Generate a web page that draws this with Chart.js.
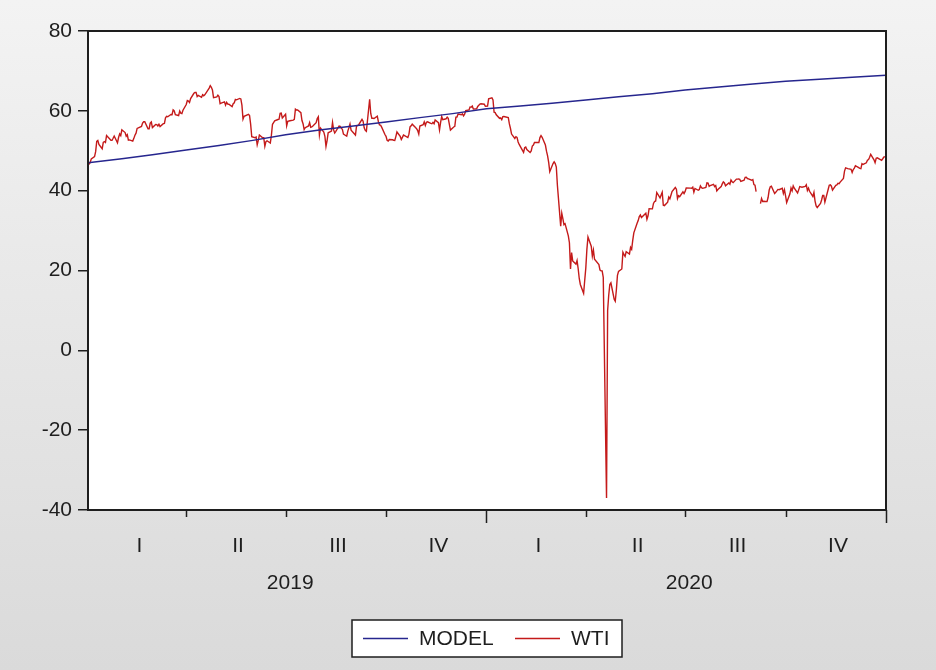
<!DOCTYPE html>
<html>
<head>
<meta charset="utf-8">
<script src="https://cdn.jsdelivr.net/npm/chart.js@4.4.1/dist/chart.umd.min.js"></script>
<style>
  html, body { margin: 0; padding: 0; }
  body { width: 936px; height: 670px; overflow: hidden; background: linear-gradient(#f3f3f3, #dadada); }
  canvas { display: block; }
</style>
</head>
<body>
<canvas id="grafico" width="936" height="670"></canvas>
<script>
const seriesNames = ['MODEL', 'WTI'];
const quarterLabels = ['I', 'II', 'III', 'IV'];
const yearLabels = ['2019', '2020'];
const yTicks = [-40, -20, 0, 20, 40, 60, 80];

// modelo: un valor al inicio de cada mes
const modelMonths = ['2019-01','2019-02','2019-03','2019-04','2019-05','2019-06','2019-07','2019-08','2019-09','2019-10','2019-11','2019-12',
  '2020-01','2020-02','2020-03','2020-04','2020-05','2020-06','2020-07','2020-08','2020-09','2020-10','2020-11','2020-12','2021-01'];
const modelValues = [47.0, 48.0, 49.0, 50.2, 51.3, 52.6, 54.0, 55.2, 56.2, 57.2, 58.3, 59.3,
  60.5, 61.2, 61.9, 62.7, 63.5, 64.3, 65.2, 66.0, 66.7, 67.4, 67.9, 68.4, 68.9];

// WTI diario (lunes a viernes), null = feriado sin dato
const wti2019 = [
  null, 46.54, 47.09, 47.96, 48.52, 49.78, 52.36, 52.59, 51.59, 50.51, 52.11, 52.31, 52.07, 53.80, null, 52.61, 52.62, 53.13, 53.69, 51.99, 53.31, 54.23, 53.79,
  55.26, 54.56, 53.66, 54.01, 52.64, 52.72, 52.41, 53.10, 53.90, 54.41, 55.59, null, 56.09, 56.92, 57.26, 57.26, 55.48, 55.50, 56.94, 57.22,
  55.80, 56.59, 56.56, 56.22, 56.66, 56.07, 56.79, 56.87, 58.26, 58.61, 58.52, 59.09, 59.03, 60.23, 59.98, 59.04, 58.82, 59.94, 59.41, 59.30, 60.14,
  61.59, 62.58, 62.46, 62.10, 63.08, 64.40, 64.61, 64.61, 63.58, 63.89, 63.40, 64.05, 63.76, 64.00, null, 65.70, 66.30, 65.89, 65.21, 63.30, 63.50, 63.91,
  63.60, 61.81, 61.94, 62.25, 61.40, 62.12, 61.70, 61.66, 61.04, 61.78, 62.02, 62.87, 62.76, 63.10, 62.99, 61.42, 57.91, 58.63, null, 59.14, 58.81, 56.59, 53.50,
  53.26, 53.46, 51.49, 52.58, 53.95, 53.27, 53.28, 51.13, 52.30, 52.50, 51.92, 53.91, 56.63, 57.07, 57.47, 57.83, 57.89, 59.39, 59.45, 58.20,
  59.14, 56.26, 57.36, null, 57.52, 57.67, 57.84, 60.42, 60.21, 60.20, 59.55, 57.58, 56.77, 55.29, 55.76, 56.22, 57.05, 55.88, 56.00, 56.18, 57.02, 58.09, 58.53,
  53.95, 55.66, 54.69, 53.63, 51.09, 52.54, 54.50, 54.93, 57.10, 55.23, 54.47, 54.87, 56.21, 56.13, 55.68, 55.35, 54.17, 53.64, 54.93, 55.78, 56.71, 55.16,
  null, 53.94, 56.26, 56.30, 56.52, 57.85, 57.40, 55.75, 55.09, 54.85, 62.90, 59.34, 58.11, 58.13, 58.09, 58.64, 57.29, 56.49, 56.41, 55.91, 54.07,
  53.62, 52.64, 52.45, 52.81, 52.75, 52.63, 52.59, 53.55, 54.70, 53.59, 52.81, 53.36, 53.93, 53.78, 53.31, 54.16, 55.97, 56.23, 56.66, 55.81, 55.54, 55.06, 54.18,
  56.20, 56.54, 57.23, 56.35, 57.15, 57.24, 56.86, 56.80, 57.12, 56.77, 57.72, 57.05, 55.21, 57.11, 58.58, 57.77, 58.01, 58.41, 58.11, null, 55.17,
  55.96, 56.10, 58.43, 58.43, 59.20, 59.02, 59.24, 58.76, 59.18, 60.07, 60.21, 60.94, 60.93, 61.22, 60.44, 60.52, 61.11, null, 61.68, 61.76, 61.66, 61.14
];
const wti2020 = [
  null, 61.17, 63.00, 63.27, 62.70, 59.65, 59.56, 59.02, 58.12, 58.23, 57.79, 58.54, 58.58, null, 58.30, 56.71, 55.57, 54.18, 53.08, 53.53, 53.35, 52.19, 51.58,
  50.11, 49.61, 50.75, 50.95, 50.32, 49.57, 49.94, 51.17, 51.42, 52.05, null, 52.05, 53.29, 53.78, 53.38, 51.43, 49.90, 48.73, 47.09, 44.76,
  46.78, 47.23, 46.78, 45.90, 41.28, 31.13, 34.36, 32.98, 31.50, 31.73, 28.70, 26.95, 20.37, 24.50, 22.40, 21.60, 22.50, 20.50, 18.00, 16.50, 14.30, 17.50,
  20.60, 25.30, 28.40, 26.10, 23.60, 25.10, 22.80, null, 21.50, 20.10, 19.90, 19.90, 18.30, -37.00, 10.00, 13.80, 16.50, 16.90, 12.80, 12.30, 15.10, 18.80,
  19.78, 20.39, 24.56, 23.99, 23.55, 24.74, 24.14, 25.78, 25.29, 27.56, 29.43, 31.82, 32.50, 33.49, 33.92, 33.25, null, 34.35, 32.81, 33.71, 35.49,
  35.44, 36.81, 37.29, 37.41, 39.55, 38.19, 38.94, 39.60, 36.34, 36.26, 37.12, 38.38, 37.96, 38.84, 39.75, 40.79, 40.37, 38.01, 38.72, 38.49, 39.70, 39.27,
  39.82, 40.65, null, 40.63, 40.62, 40.90, 39.62, 40.55, 40.10, 40.29, 41.20, 40.75, 40.59, 40.81, 41.96, 41.90, 41.07, 41.29, 41.60, 41.04, 41.27, 39.92, 40.27,
  41.01, 41.70, 42.19, 41.95, 41.22, 41.94, 41.61, 42.67, 42.24, 42.01, 42.89, 42.89, 42.93, 42.82, 42.34, 42.62, 43.35, 43.39, 43.04, 42.97, 42.61,
  42.76, 41.51, 41.37, 39.77, null, 36.76, 38.05, 37.30, 37.33, 37.26, 38.28, 40.16, 40.97, 41.11, 39.31, 39.60, 39.93, 40.31, 40.25, 40.60, 39.29, 40.22,
  38.72, 37.05, 39.22, 40.67, 39.95, 41.19, 40.60, 39.43, 40.20, 41.04, 40.96, 40.88, 41.06, 41.46, 40.03, 40.64, 39.85, 38.56, 39.57, 37.39, 36.17, 35.79,
  36.81, 37.66, 38.79, 38.79, 37.14, 40.29, 41.36, 41.45, 41.12, 40.13, 41.34, 41.43, 41.82, 41.74, 42.15, 43.06, 44.91, 45.71, null, 45.53, 45.34,
  44.55, 45.28, 45.64, 46.26, 45.76, 45.60, 45.52, 46.78, 46.57, 46.99, 47.62, 47.82, 48.36, 49.10, 47.74, 47.02, 48.12, 48.23, null, 47.62, 48.00, 48.40, 48.52
];
// feriados donde la linea se ve cortada en el original
const cortes = ['2020-09-07'];

const DAY = 86400000;
const ORIGEN = Date.UTC(2019, 0, 1);
const TOTAL_DIAS = (Date.UTC(2021, 0, 1) - ORIGEN) / DAY;

function diaDe(ms) { return Math.round((ms - ORIGEN) / DAY); }
function diaDeTexto(s) {
  const [a, m, d] = s.split('-').map(Number);
  return diaDe(Date.UTC(a, m - 1, d || 1));
}
const diasCorte = cortes.map(diaDeTexto);

function puntosHabiles(anio, valores) {
  const d = new Date(Date.UTC(anio, 0, 1));
  const out = [];
  let i = 0;
  while (i < valores.length) {
    const wd = d.getUTCDay();
    if (wd !== 0 && wd !== 6) {
      const x = diaDe(d.getTime());
      if (valores[i] !== null) out.push({ x, y: valores[i] });
      else if (diasCorte.includes(x)) out.push({ x, y: null });
      i++;
    }
    d.setUTCDate(d.getUTCDate() + 1);
  }
  return out;
}

const modelPoints = modelMonths.map((m, i) => ({ x: diaDeTexto(m), y: modelValues[i] }));
const wtiPoints = puntosHabiles(2019, wti2019).concat(puntosHabiles(2020, wti2020));

// limites y centros de trimestres (en dias desde 2019-01-01)
const limites = [];
const centros = [];
[2019, 2020].forEach(a => {
  for (let q = 0; q < 4; q++) {
    const ini = diaDe(Date.UTC(a, q * 3, 1));
    const fin = diaDe(Date.UTC(a, q * 3 + 3, 1));
    limites.push(fin);
    centros.push((ini + fin) / 2);
  }
});
const centrosAnio = [2019, 2020].map(a => (diaDe(Date.UTC(a, 0, 1)) + diaDe(Date.UTC(a + 1, 0, 1))) / 2);

const FUENTE = '"Liberation Sans", Arial, sans-serif';
const TINTA = '#1e1e1e';

const marco = {
  id: 'marco',
  beforeDraw(chart) {
    const { ctx, chartArea: a } = chart;
    ctx.save();
    ctx.fillStyle = '#ffffff';
    ctx.fillRect(a.left, a.top, a.right - a.left, a.bottom - a.top);
    ctx.restore();
  },
  afterDraw(chart) {
    const { ctx, chartArea: a } = chart;
    const x = chart.scales.x;
    ctx.save();
    ctx.strokeStyle = TINTA;
    ctx.lineWidth = 2;
    ctx.strokeRect(a.left, a.top, a.right - a.left, a.bottom - a.top);

    // marcas del eje x
    ctx.lineWidth = 1.5;
    limites.forEach((v, i) => {
      const px = Math.round(x.getPixelForValue(v)) + 0.5;
      const largo = (i % 4 === 3) ? 13 : 7;
      ctx.beginPath();
      ctx.moveTo(px, a.bottom);
      ctx.lineTo(px, a.bottom + largo);
      ctx.stroke();
    });

    // años
    ctx.fillStyle = TINTA;
    ctx.font = '21px ' + FUENTE;
    ctx.textAlign = 'center';
    ctx.textBaseline = 'middle';
    yearLabels.forEach((t, i) => {
      ctx.fillText(t, x.getPixelForValue(centrosAnio[i]) + 3, 583);
    });

    // leyenda
    const caja = { l: 352, t: 620, r: 622, b: 657 };
    ctx.fillStyle = '#ffffff';
    ctx.fillRect(caja.l, caja.t, caja.r - caja.l, caja.b - caja.t);
    ctx.strokeStyle = TINTA;
    ctx.lineWidth = 1.5;
    ctx.strokeRect(caja.l, caja.t, caja.r - caja.l, caja.b - caja.t);
    const yl = 638;
    const muestras = [363, 515];
    chart.data.datasets.forEach((ds, i) => {
      ctx.strokeStyle = ds.borderColor;
      ctx.lineWidth = 1.5;
      ctx.beginPath();
      ctx.moveTo(muestras[i], yl + 0.5);
      ctx.lineTo(muestras[i] + 45, yl + 0.5);
      ctx.stroke();
      ctx.fillStyle = TINTA;
      ctx.textAlign = 'left';
      ctx.fillText(ds.label, muestras[i] + 56, yl + 1);
    });
    ctx.restore();
  }
};

const ctx = document.getElementById('grafico').getContext('2d');
new Chart(ctx, {
  type: 'line',
  data: {
    datasets: [
      { label: seriesNames[0], data: modelPoints, borderColor: '#26268e', borderWidth: 1.5, pointRadius: 0, tension: 0 },
      { label: seriesNames[1], data: wtiPoints, borderColor: '#c41a1a', borderWidth: 1.4, pointRadius: 0, tension: 0, spanGaps: false }
    ]
  },
  options: {
    responsive: false,
    animation: false,
    layout: { padding: { top: 31, right: 50, left: 0, bottom: 0 } },
    plugins: { legend: { display: false }, tooltip: { enabled: false } },
    scales: {
      x: {
        type: 'linear',
        min: 0,
        max: TOTAL_DIAS,
        afterBuildTicks: s => { s.ticks = centros.map(v => ({ value: v + 2 })); },
        afterFit: s => { s.height = 160; },
        grid: { display: false },
        border: { display: false },
        ticks: {
          autoSkip: false,
          maxRotation: 0,
          padding: 16,
          color: TINTA,
          font: { family: FUENTE, size: 21 },
          callback: (v, i) => quarterLabels[i % 4]
        }
      },
      y: {
        min: -40,
        max: 80,
        afterBuildTicks: s => { s.ticks = yTicks.map(v => ({ value: v })); },
        afterFit: s => { s.width = 88; },
        grid: { drawOnChartArea: false, drawTicks: true, tickLength: 10, color: TINTA, lineWidth: 1.5 },
        border: { display: false },
        ticks: { padding: 6, color: TINTA, font: { family: FUENTE, size: 21 } }
      }
    }
  },
  plugins: [marco]
});
</script>
</body>
</html>
